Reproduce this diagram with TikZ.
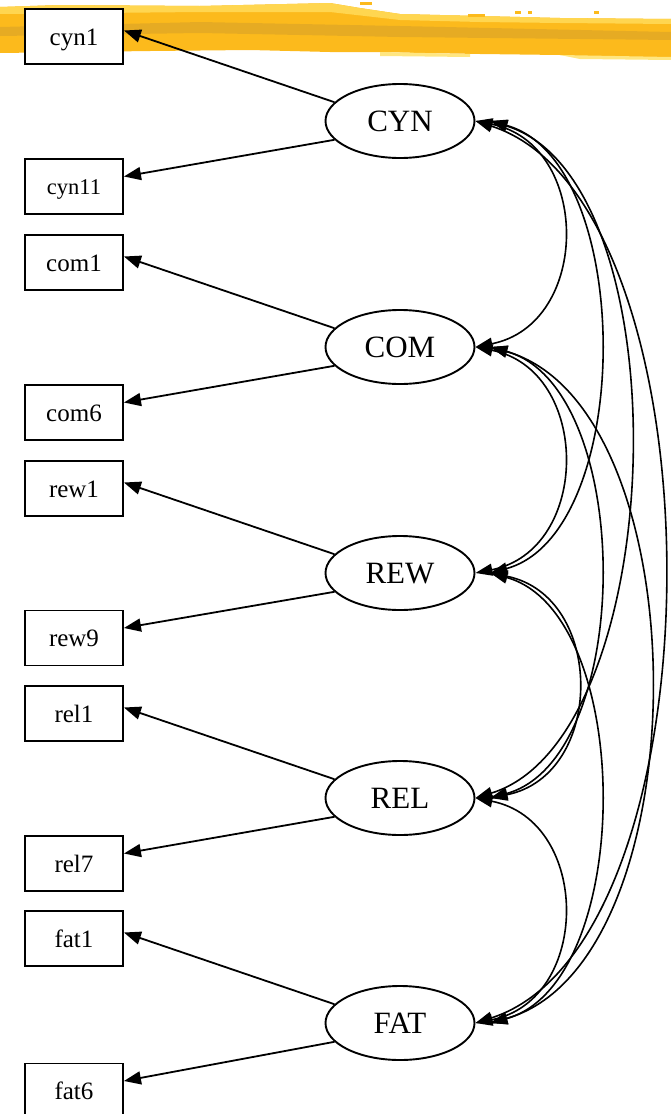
\documentclass[tikz,border=0pt]{standalone}
\usepackage{fontspec}
\setmainfont{Liberation Serif}
\usetikzlibrary{shapes.geometric,arrows.meta,calc}
\definecolor{brushmain}{RGB}{252,186,28}
\definecolor{brushdark}{RGB}{222,166,38}
\definecolor{brushlight}{RGB}{255,214,80}
\definecolor{brushpale}{RGB}{255,230,128}
\begin{document}
\begin{tikzpicture}[x=1pt,y=-1pt,
  ind/.style={draw, line width=1.9pt, fill=white, minimum width=98pt, minimum height=55pt,
    inner sep=0pt, font=\fontsize{25}{30}\selectfont, text height=17pt, text depth=0pt},
  lat/.style={ellipse, draw, line width=1.9pt, fill=white, minimum width=149pt, minimum height=74pt,
    inner sep=0pt, font=\fontsize{31}{36}\selectfont, text height=20.5pt, text depth=0pt},
  load/.style={line width=1.8pt, -{Triangle[length=17pt,width=13pt]}},
  cov/.style={line width=1.6pt, {Triangle[length=17pt,width=12pt]}-{Triangle[length=17pt,width=12pt]}}]
\useasboundingbox (0,0) rectangle (671,1114);
% brush stroke
\fill[brushmain] (0,7) -- (60,5) -- (200,6) -- (330,3) -- (360,8) -- (400,14) -- (480,16) -- (560,18) -- (671,19)
  -- (671,58) -- (600,57) -- (560,55) -- (480,54) -- (420,53) -- (380,52) -- (330,52) -- (250,50) -- (150,51) -- (0,53) -- cycle;
\fill[brushlight] (0,7) -- (60,5) -- (200,6) -- (330,3) -- (360,8) -- (400,14) -- (480,16) -- (560,18) -- (671,19)
  -- (671,24) -- (560,23) -- (480,22) -- (400,20) -- (330,12) -- (200,12) -- (0,14) -- cycle;
\fill[brushdark, opacity=0.7] (0,27) -- (200,22) -- (400,26) -- (671,32) -- (671,40) -- (400,37) -- (200,33) -- (0,36) -- cycle;
\fill[brushpale] (380,52) -- (470,54) -- (470,57) -- (380,56) -- cycle;
\fill[brushpale] (560,55) -- (671,57) -- (671,60) -- (580,59) -- cycle;
\fill[brushmain] (360,2) rectangle (372,5);
\fill[brushmain] (515,11) rectangle (521,14);
\fill[brushmain] (528,11) rectangle (532,14);
\fill[brushmain] (594,11) rectangle (599,14);
\fill[brushmain] (468,14) rectangle (485,17);
% indicators
\node[ind] (cyn1)  at (74,36.5)  {cyn1};
\node[ind, font=\fontsize{22.5}{27}\selectfont, text height=15.3pt] (cyn11) at (74,186.5) {cyn11};
\node[ind] (com1)  at (74,262.5) {com1};
\node[ind] (com6)  at (74,412.5) {com6};
\node[ind] (rew1)  at (74,488.5) {rew1};
\node[ind] (rew9)  at (74,638)   {rew9};
\node[ind] (rel1)  at (74,713.5) {rel1};
\node[ind] (rel7)  at (74,863.5) {rel7};
\node[ind] (fat1)  at (74,938.5) {fat1};
\node[ind] (fat6)  at (74,1091) {fat6};
% latent
\node[lat] (CYN) at (400,121) {CYN};
\node[lat] (COM) at (400,347) {COM};
\node[lat] (REW) at (400,573) {REW};
\node[lat] (REL) at (400,798) {REL};
\node[lat] (FAT) at (400,1023) {FAT};
% loadings
\foreach \f/\a/\b in {CYN/cyn1/cyn11, COM/com1/com6, REW/rew1/rew9, REL/rel1/rel7, FAT/fat1/fat6}{
  \draw[load] (\f.164) -- ([yshift=6pt]\a.east);
  \draw[load] (\f.196) -- ([yshift=10pt]\b.east);
}
% covariance end points
\foreach \f in {CYN,COM,REW,REL,FAT}{
  \coordinate (\f a) at (\f.east);
  \coordinate (\f b) at ([xshift=15pt]\f.east);
}
% covariances
\draw[cov] (CYNa) .. controls +(116,23) and +(116,-23) .. (COMa);
\draw[cov] (COMa) .. controls +(116,23) and +(116,-23) .. (REWa);
\draw[cov] (REWb) .. controls +(115,23) and +(115,-23) .. (RELb);
\draw[cov] (RELa) .. controls +(116,23) and +(116,-23) .. (FATa);
\draw[cov] (CYNb) .. controls +(145,40) and +(145,-40) .. (REWb);
\draw[cov] (COMb) .. controls +(145,40) and +(145,-40) .. (RELb);
\draw[cov] (REWb) .. controls +(145,40) and +(145,-40) .. (FATb);
\draw[cov] (CYNb) .. controls +(195,60) and +(195,-60) .. (RELa);
\draw[cov] (COMb) .. controls +(212,60) and +(212,-60) .. (FATb);
\draw[cov] (CYNa) .. controls +(250,80) and +(250,-80) .. (FATa);
\end{tikzpicture}
\end{document}
